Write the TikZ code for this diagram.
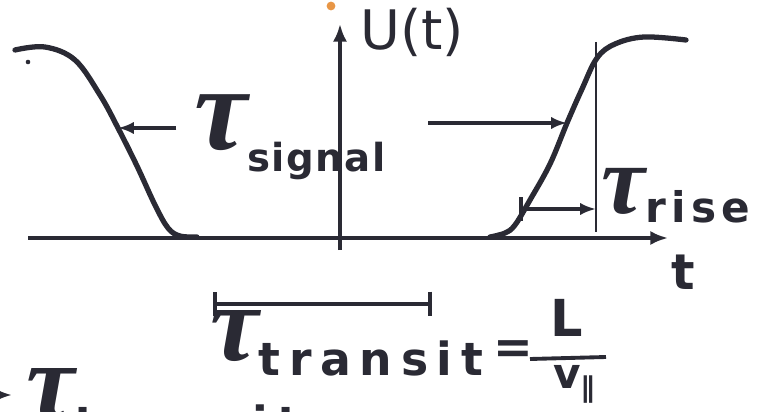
\documentclass[tikz,border=0pt]{standalone}
\usepackage{amsmath,amssymb}
\usepackage{fontspec}
\newfontfamily\handfont{DejaVu Sans}
\newfontfamily\taufont{Liberation Serif}
\usepackage{tikz}
\usetikzlibrary{arrows.meta}
\definecolor{ink}{RGB}{42,42,52}
\definecolor{smudge}{RGB}{232,150,70}
\newcommand{\bigtau}[1]{{\taufont\bfseries\itshape\fontsize{#1}{#1}\selectfont τ}}
\newcommand{\subtxt}[3]{{\fontsize{#1}{#1}\selectfont\addfontfeature{LetterSpace=#2}#3}}
\tikzset{
  axis/.style={line width=2.2pt, ink, -{Latex[length=10pt,width=8pt]}},
  curve/.style={line width=3pt, ink, line cap=round, line join=round},
  arrow/.style={line width=2pt, ink, -{Latex[length=9pt,width=7pt]}},
  span/.style={line width=2pt, ink, {Bar[width=14pt]}-{Bar[width=14pt]}},
  guide/.style={line width=1.6pt, ink},
  hand/.style={ink, inner sep=0pt, font=\handfont\bfseries},
}
\begin{document}
\begin{tikzpicture}[x=0.02cm, y=-0.02cm]
\useasboundingbox (0,0) rectangle (768,412);
\clip (0,0) rectangle (768,412);
% axes
\coordinate (xl) at (28,238);
\coordinate (xr) at (668,238);
\coordinate (yb) at (340,250);
\coordinate (yt) at (340,24);
\draw[axis] (xl) -- (xr);
\draw[axis] (yb) -- (yt);
\node[hand, font=\handfont\fontsize{31}{31}\selectfont] (ut) at (412,32) {U(t)};
\node[hand, font=\handfont\bfseries\fontsize{28}{28}\selectfont] (tt) at (683,272) {t};

% pulses
\draw[curve] plot[smooth, tension=0.6] coordinates {(15,50) (45,47) (75,60) (100,95) (118,128) (137,166) (155,205) (168,228) (180,236) (197,237)};
\draw[curve] plot[smooth, tension=0.6] coordinates {(490,237) (505,233) (515,225) (530,200) (550,164) (567,123) (582,89) (597,58) (615,44) (644,37) (686,40)};
\fill[ink] (28,62) circle (1.3pt);
\fill[smudge] (331,6) circle (2.5pt);

% signal width
\coordinate (sigl) at (118,128);
\coordinate (sigr) at (567,123);
\node[hand, anchor=base west] (sig) at (194,150) {\bigtau{68}\raisebox{-12pt}{\subtxt{22}{4}{signal}}};
\draw[arrow, shorten <=10pt] (sig.west |- sigl) -- (sigl);
\draw[arrow, shorten <=24pt] (sig.east |- sigr) -- (sigr);

% rise time
\coordinate (risetop) at (596,42);
\coordinate (risebot) at (596,232);
\draw[guide] (risetop) -- (risebot);
\coordinate (risel) at (519,209);
\coordinate (riser) at (596,209);
\draw[arrow, {Bar[width=14pt]}-{Latex[length=9pt,width=7pt]}] (risel) -- (riser);
\node[hand, anchor=base west] (rise) at (601,214) {\bigtau{56}\raisebox{-5pt}{\subtxt{24}{13}{rise}}};

% transit time
\coordinate (trl) at (213,304);
\coordinate (trr) at (432,304);
\draw[span] (trl) -- (trr);
\node[hand, anchor=base west] (transit) at (210,360) {\bigtau{62}\raisebox{-9pt}{\subtxt{26}{19}{transit}}};
\node[hand, font=\handfont\bfseries\fontsize{27}{27}\selectfont] (eq) at (513,352) {=};
\node[hand, font=\handfont\bfseries\fontsize{29}{29}\selectfont] (Lnum) at (567,318) {L};
\coordinate (barl) at (530,359);
\coordinate (barr) at (606,357);
\draw[guide, line width=2.2pt] (barl) -- (barr);
\node[hand, font=\handfont\bfseries\fontsize{24}{24}\selectfont] (vden) at (574,384) {v\raisebox{-5pt}{\fontsize{16}{16}\selectfont ∥}};

% cut-off label at the bottom
\coordinate (cutl) at (-30,395);
\node[hand, anchor=base west] (cut) at (26,418) {\bigtau{62}\raisebox{-12pt}{\subtxt{26}{19}{transit}}};
\draw[arrow, shorten >=8pt] (cutl) -- (cut.west |- cutl);
\end{tikzpicture}
\end{document}
